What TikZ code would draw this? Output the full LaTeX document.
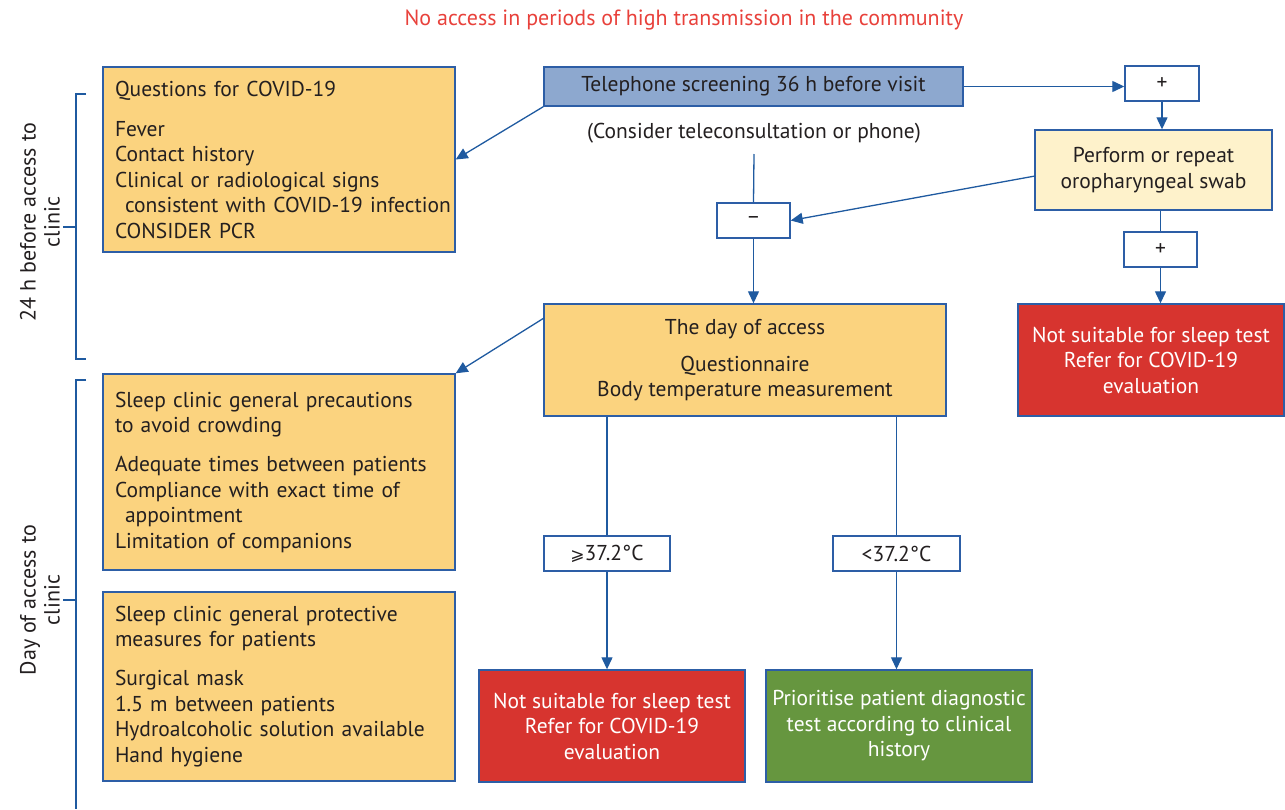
\documentclass[tikz,border=0pt]{standalone}
\usepackage{fontspec}
\setmainfont{PT Sans}
\newfontfamily\symfont{DejaVu Sans}
\usetikzlibrary{arrows.meta}
\definecolor{txt}{HTML}{231F20}
\definecolor{bord}{HTML}{2D5EA6}
\definecolor{arrc}{HTML}{1F5AA0}
\definecolor{orangefill}{HTML}{FBD37F}
\definecolor{telfill}{HTML}{8DA8CF}
\definecolor{swabfill}{HTML}{FEF2CB}
\definecolor{redfill}{HTML}{D7342F}
\definecolor{greenfill}{HTML}{66963F}
\definecolor{titlered}{HTML}{E8413B}
\tikzset{
  base/.style={draw=bord, line width=1.4pt, inner ysep=0pt, font=\fontsize{21.5}{25.5}\selectfont, text=txt},
  obox/.style={base, fill=orangefill, align=left, inner xsep=12pt},
  cbox/.style={base, align=center, inner xsep=2pt},
  wbox/.style={base, fill=white, align=center, inner xsep=2pt},
  arr/.style={draw=arrc, line width=1.3pt, -{Triangle[length=12pt,width=11pt]}},
  ln/.style={draw=arrc, line width=1.3pt},
  side/.style={font=\fontsize{22}{24}\selectfont, text=txt, align=center, rotate=90}
}
\begin{document}
\begin{tikzpicture}[x=1pt,y=-1pt]
\useasboundingbox (0,0) rectangle (1285,809);

\node[font=\fontsize{22}{25}\selectfont, text=titlered] (title) at (684,20) {No access in periods of high transmission in the community};

% left column
\node[obox, text width=328pt, minimum height=185pt] (q) at (279,159.5) {Questions for COVID-19\\[14.5pt]Fever\\Contact history\\Clinical or radiological signs\\\mbox{\hspace*{10pt}consistent with COVID-19 infection}\\CONSIDER PCR};
\node[obox, text width=328pt, minimum height=196pt] (prec) at (279,472) {Sleep clinic general precautions\\to avoid crowding\\[13.5pt]Adequate times between patients\\Compliance with exact time of\\\hspace*{10pt}appointment\\Limitation of companions\\[4pt]};
\node[obox, text width=328pt, minimum height=189pt] (prot) at (279,686.5) {Sleep clinic general protective\\measures for patients\\[13.5pt]Surgical mask\\1.5 m between patients\\Hydroalcoholic solution available\\Hand hygiene};

% centre column
\node[cbox, fill=telfill, minimum width=419pt, minimum height=39pt] (tel) at (753.5,86.5) {Telephone screening 36 h before visit};
\node[font=\fontsize{21.5}{25}\selectfont, text=txt] (consider) at (754,133) {(Consider teleconsultation or phone)};
\coordinate (c1) at (754,154);
\node[wbox, minimum width=73pt, minimum height=35pt] (minus) at (753.5,220.5) {–};
\node[cbox, fill=orangefill, minimum width=402pt, minimum height=112pt] (day) at (745,360) {The day of access\\[11.5pt]Questionnaire\\Body temperature measurement};
\node[wbox, minimum width=126pt, minimum height=35pt] (hi) at (607,553.5) {{\symfont\fontsize{17}{20}\selectfont ⩾}37.2°C};
\node[wbox, minimum width=127pt, minimum height=35pt] (lo) at (896.5,553.5) {<37.2°C};
\node[cbox, fill=redfill, text=white, minimum width=266pt, minimum height=112pt] (redA) at (612,726) {Not suitable for sleep test\\Refer for COVID-19\\evaluation};
\node[cbox, fill=greenfill, text=white, minimum width=266pt, minimum height=112pt] (green) at (899,726) {Prioritise patient diagnostic\\test according to clinical\\history};

% right column
\node[wbox, minimum width=74pt, minimum height=35pt] (plusA) at (1162,83.5) {+};
\node[cbox, fill=swabfill, minimum width=237pt, minimum height=80pt] (swab) at (1153.5,170) {Perform or repeat\\oropharyngeal swab};
\node[wbox, minimum width=73pt, minimum height=35pt] (plusB) at (1160.5,249.5) {+};
\node[cbox, fill=redfill, text=white, minimum width=266pt, minimum height=112pt] (redB) at (1151,360) {Not suitable for sleep test\\Refer for COVID-19\\evaluation};

% side labels
\node[side] (lab1) at (40,222) {24 h before access to\\clinic};
\node[side] (lab2) at (40,600) {Day of access to\\clinic};

% brackets
\draw[ln] (86,94) -- (76,94) -- (76,359) -- (86,359);
\draw[ln] (63,227) -- (76,227);
\draw[ln] (86,380) -- (76,380) -- (76,809);
\draw[ln] (63,600) -- (76,600);

% connectors
\draw[arr] (tel.south west) -- (q.east);
\draw[arr] (tel.east) -- (tel.east -| plusA.west);
\draw[arr] (plusA.south) -- (plusA.south |- swab.north);
\draw[ln] (swab.south -| plusB.north) -- (plusB.north);
\draw[arr] (plusB.south) -- (plusB.south |- redB.north);
\coordinate (sw) at (1035,176);
\draw[arr] (sw) -- (minus.east);
\draw[ln] (c1) -- (minus.north);
\draw[arr] (minus.south) -- (minus.south |- day.north);
\coordinate (dw) at (544,318);
\draw[arr] (dw) -- (prec.north east);
\draw[ln] (hi.north |- day.south) -- (hi.north);
\draw[ln] (lo.north |- day.south) -- (lo.north);
\draw[arr] (hi.south) -- (hi.south |- redA.north);
\draw[arr] (lo.south) -- (lo.south |- green.north);
\end{tikzpicture}
\end{document}
